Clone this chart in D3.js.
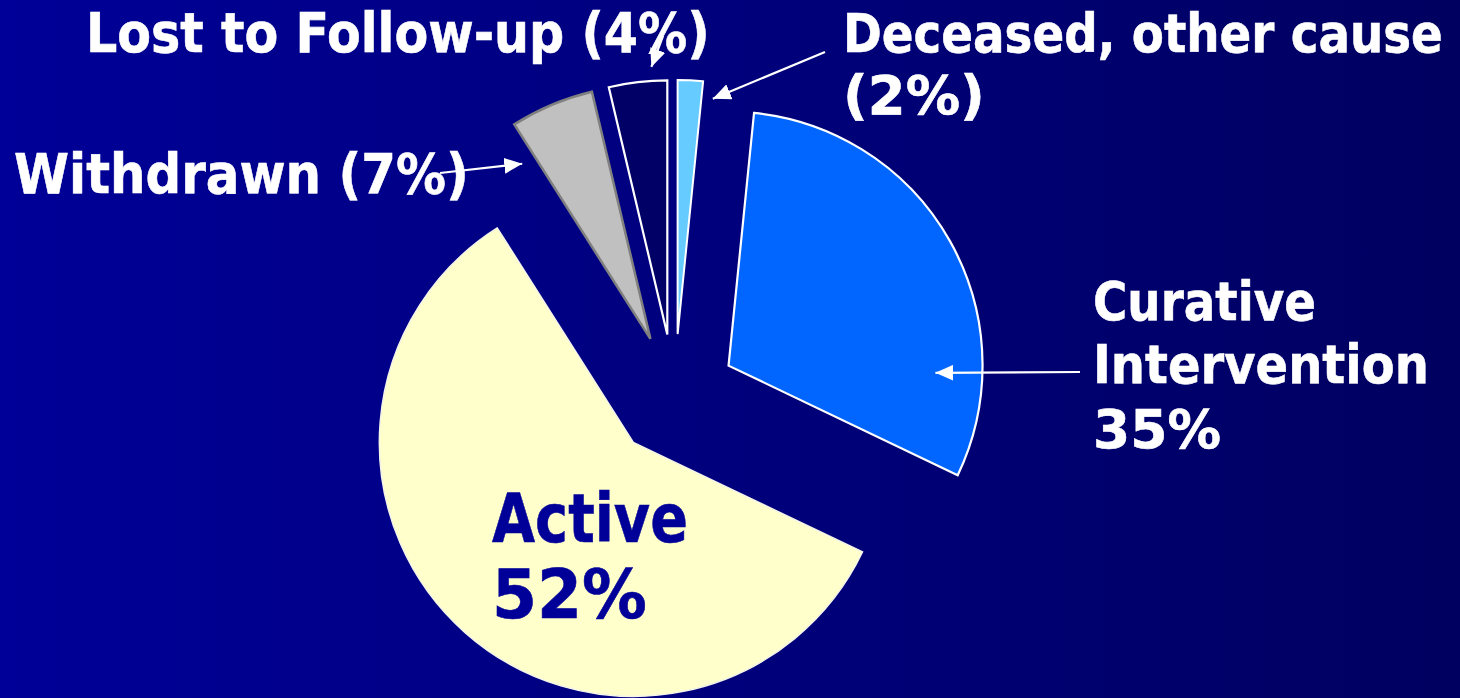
<!DOCTYPE html>
<html>
<head>
<meta charset="utf-8">
<script src="https://cdn.jsdelivr.net/npm/d3@7"></script>
<style>
  html, body { margin: 0; padding: 0; background: #000080; overflow: hidden; }
  svg { display: block; }
  text { font-family: "DejaVu Sans", Verdana, sans-serif; font-weight: bold; }
</style>
</head>
<body>
<svg id="chart" width="1460" height="698"></svg>
<script>
// ---- data ----
const categories = ["Deceased, other cause", "Curative Intervention", "Active", "Withdrawn", "Lost to Follow-up"];
// angular share of each slice as drawn in the picture (percent of the circle)
const sliceShares = [1.6, 30.5, 58.9, 5.3, 3.7];
// percentages printed in the labels
const labelPercents = [2, 35, 52, 7, 4];

// ---- styles / layout ----
const fills   = ["#66CCFF", "#0066FF", "#FFFFCC", "#C0C0C0", "#000066"];
const strokes = ["#FFFFFF", "#FFFFFF", "#F4F4E8", "#808080", "#FFFFFF"];
const strokeW = [2, 2.2, 1.5, 2.5, 2.2];

const W = 1460, H = 698;
const cx = 674.5, cy = 396, R = 254, explode = 62;

const svg = d3.select("#chart");
const defs = svg.append("defs");
const grad = defs.append("linearGradient").attr("id", "bg")
  .attr("x1", "0%").attr("y1", "0%").attr("x2", "100%").attr("y2", "0%");
grad.append("stop").attr("offset", "0%").attr("stop-color", "#000098");
grad.append("stop").attr("offset", "100%").attr("stop-color", "#000060");
svg.append("rect").attr("width", W).attr("height", H).attr("fill", "url(#bg)");

defs.append("marker").attr("id", "head")
  .attr("markerUnits", "userSpaceOnUse")
  .attr("viewBox", "0 0 18 16").attr("refX", 18).attr("refY", 8)
  .attr("markerWidth", 18).attr("markerHeight", 16).attr("orient", "auto")
  .append("path").attr("d", "M0,0 L18,8 L0,16 Z").attr("fill", "#FFFFFF");

const pie = d3.pie().sort(null).value(d => d).startAngle(0).endAngle(2 * Math.PI);
const arcs = pie(sliceShares);
const arc = d3.arc().innerRadius(0).outerRadius(R);

function apexOf(a) {
  const mid = (a.startAngle + a.endAngle) / 2;
  return [cx + explode * Math.sin(mid), cy - explode * Math.cos(mid)];
}
function polar(a, deg, r) {
  const p = apexOf(a), t = deg * Math.PI / 180;
  return [p[0] + r * Math.sin(t), p[1] - r * Math.cos(t)];
}

const g = svg.append("g");
g.selectAll("path.slice").data(arcs).join("path")
  .attr("class", "slice")
  .attr("transform", d => `translate(${apexOf(d)[0]},${apexOf(d)[1]})`)
  .attr("d", arc)
  .attr("fill", (d, i) => fills[i])
  .attr("stroke", (d, i) => strokes[i])
  .attr("stroke-width", (d, i) => strokeW[i])
  .attr("stroke-linejoin", "miter");

// ---- labels ----
const labelLayout = [
  { lines: [categories[0], `(${labelPercents[0]}%)`], x: 843, y: [52, 114], w: [600, 142], size: 54, color: "#FFFFFF" },
  { lines: ["Curative", "Intervention", `${labelPercents[1]}%`], x: 1093, y: [320, 383, 448], w: [223, 336, 128], size: 54, color: "#FFFFFF" },
  { lines: [categories[2], `${labelPercents[2]}%`], x: 492, y: [542, 618], w: [196, 155], size: 67, color: "#000099" },
  { lines: [`${categories[3]} (${labelPercents[3]}%)`], x: 14, y: [193], w: [455], size: 55, color: "#FFFFFF" },
  { lines: [`${categories[4]} (${labelPercents[4]}%)`], x: 86, y: [52], w: [624], size: 55, color: "#FFFFFF" }
];

// arrows: tail near the label, tip placed relative to the slice geometry
const arrowSpec = [
  { slice: 0, tail: [825, 52], deg: 8.5, r: 238 },
  { slice: 1, tail: [1080, 372], deg: 92, r: 207 },
  { slice: 3, tail: [440, 173], deg: 323.8, r: 217 },
  { slice: 4, tail: [663, 36], deg: 356.6, r: 268 }
];

labelLayout.forEach(L => {
  L.lines.forEach((t, j) => {
    const txt = svg.append("text")
      .attr("x", 0).attr("y", 0)
      .attr("font-size", L.size)
      .attr("fill", L.color)
      .attr("stroke", L.color).attr("stroke-width", 0.6)
      .text(t);
    const natural = txt.node().getComputedTextLength();
    const sx = natural > 0 ? L.w[j] / natural : 1;
    txt.attr("transform", `translate(${L.x},${L.y[j]}) scale(${sx},1)`);
  });
});

arrowSpec.forEach(a => {
  const tip = polar(arcs[a.slice], a.deg, a.r);
  svg.append("line")
    .attr("x1", a.tail[0]).attr("y1", a.tail[1])
    .attr("x2", tip[0]).attr("y2", tip[1])
    .attr("stroke", "#FFFFFF").attr("stroke-width", 2.2)
    .attr("marker-end", "url(#head)");
});
</script>
</body>
</html>
